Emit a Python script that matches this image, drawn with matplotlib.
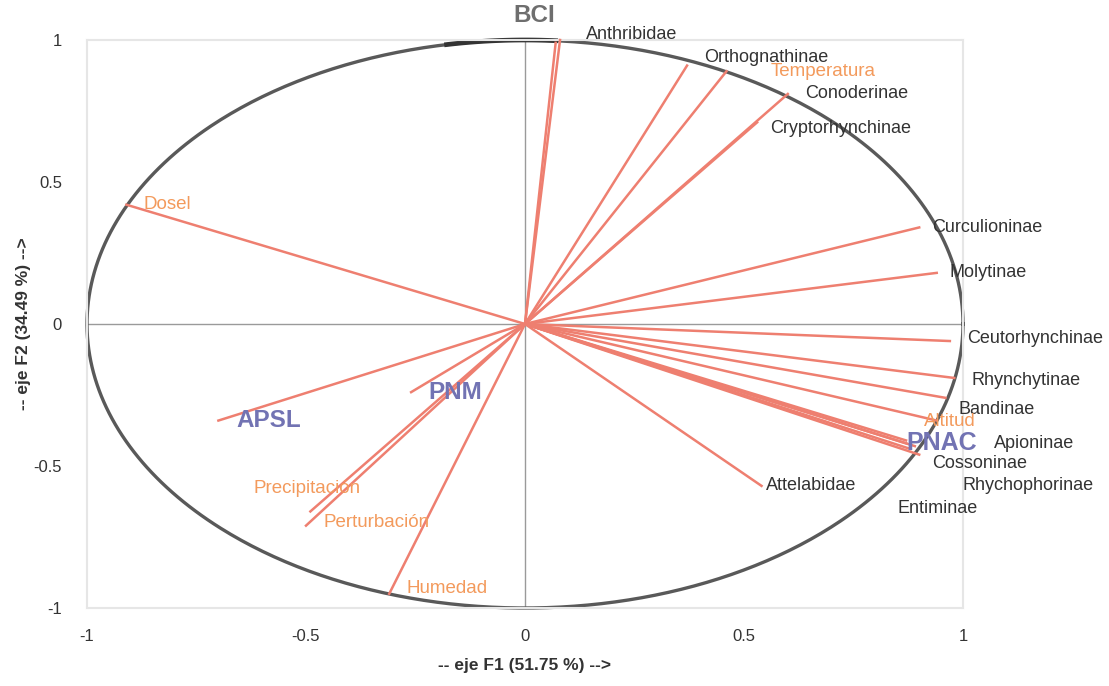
import numpy as np
import matplotlib
matplotlib.use("Agg")
import matplotlib.pyplot as plt

plt.rcParams['font.family'] = ['Liberation Sans', 'DejaVu Sans']

# Species (taxa) vectors
taxa = ["Anthribidae", "Orthognathinae", "Conoderinae", "Cryptorhynchinae",
        "Curculioninae", "Molytinae", "Ceutorhynchinae", "Rhynchytinae",
        "Bandinae", "Apioninae", "Cossoninae", "Rhychophorinae", "Entiminae",
        "Attelabidae"]
taxa_x = [0.08, 0.37, 0.60, 0.53, 0.90, 0.94, 0.97, 0.98, 0.96, 0.89, 0.88, 0.90, 0.87, 0.54]
taxa_y = [1.00, 0.91, 0.81, 0.71, 0.34, 0.18, -0.06, -0.19, -0.26, -0.43, -0.44, -0.46, -0.42, -0.57]
# label anchor positions (style), kept separately
taxa_lx = [0.14, 0.41, 0.64, 0.56, 0.93, 0.97, 1.01, 1.02, 0.99, 1.07, 0.93, 1.00, 0.85, 0.55]
taxa_ly = [1.02, 0.94, 0.81, 0.69, 0.34, 0.18, -0.05, -0.20, -0.30, -0.42, -0.49, -0.57, -0.65, -0.57]

# Environmental variables
env = ["Temperatura", "Dosel", "Altitud", "Precipitación", "Perturbación", "Humedad"]
env_x = [0.46, -0.91, 0.94, -0.49, -0.50, -0.31]
env_y = [0.89, 0.42, -0.34, -0.66, -0.71, -0.95]
env_lx = [0.56, -0.87, 0.91, -0.62, -0.46, -0.27]
env_ly = [0.89, 0.42, -0.345, -0.58, -0.70, -0.93]

# Sites
sites = ["BCI", "PNAC", "APSL", "PNM"]
site_x = [0.07, 0.87, -0.70, -0.26]
site_y = [0.99, -0.41, -0.34, -0.24]
site_lx = [-0.027, 0.87, -0.66, -0.22]
site_ly = [1.085, -0.42, -0.34, -0.24]

line_c = "#ee7f70"
env_c = "#f39a5c"
site_c = "#7273b3"

fig = plt.figure(figsize=(11.09, 6.86), dpi=100)
ax = fig.add_axes([87/1109, 78/686, 876/1109, 568/686])
ax.set_xlim(-1, 1)
ax.set_ylim(-1, 1)

for s in ax.spines.values():
    s.set_color("#e6e6e6")
    s.set_linewidth(1.5)

ax.axhline(0, color="#9a9a9a", lw=1.0, zorder=1)
ax.axvline(0, color="#9a9a9a", lw=1.0, zorder=1)

t = np.linspace(0, 2*np.pi, 600)
ax.plot(np.cos(t), np.sin(t), color="#595959", lw=2.4, zorder=2, clip_on=False)
ta = np.linspace(np.pi/2 - 0.07, np.pi/2 + 0.18, 50)
ax.plot(np.cos(ta), np.sin(ta), color="#333333", lw=3.4, zorder=2, clip_on=False)

for x, y in zip(taxa_x, taxa_y):
    ax.plot([0, x], [0, y], color=line_c, lw=1.8, zorder=3, clip_on=False)
for x, y in zip(env_x, env_y):
    ax.plot([0, x], [0, y], color=line_c, lw=1.8, zorder=3, clip_on=False)
for x, y in zip(site_x, site_y):
    ax.plot([0, x], [0, y], color=line_c, lw=1.8, zorder=3, clip_on=False)

for name, x, y in zip(taxa, taxa_lx, taxa_ly):
    ax.text(x, y, name, color="#333333", fontsize=13, ha="left", va="center",
            zorder=5, clip_on=False)
for name, x, y in zip(env, env_lx, env_ly):
    ax.text(x, y, name, color=env_c, fontsize=13.5, ha="left", va="center",
            zorder=5, clip_on=False)
for name, x, y in zip(sites, site_lx, site_ly):
    col = "#6e6e6e" if name == "BCI" else site_c
    fs = 18 if name == "PNAC" else 17.5
    ax.text(x, y, name, color=col, fontsize=fs, fontweight="bold", ha="left",
            va="center", zorder=6, clip_on=False)

ax.set_xticks([-1, -0.5, 0, 0.5, 1])
ax.set_yticks([-1, -0.5, 0, 0.5, 1])
ax.set_xticklabels(["-1", "-0.5", "0", "0.5", "1"])
ax.set_yticklabels(["-1", "-0.5", "0", "0.5", "1"])
ax.tick_params(length=0, labelsize=12, colors="#333333")
ax.tick_params(axis="x", pad=15)
ax.tick_params(axis="y", pad=18)

ax.set_xlabel("-- eje F1 (51.75 %) -->", fontsize=12.5, fontweight="bold",
              color="#333333", labelpad=10)
ax.set_ylabel("-- eje F2 (34.49 %) -->", fontsize=12.5, fontweight="bold",
              color="#333333", labelpad=2)

fig.savefig("out.png", dpi=100)
